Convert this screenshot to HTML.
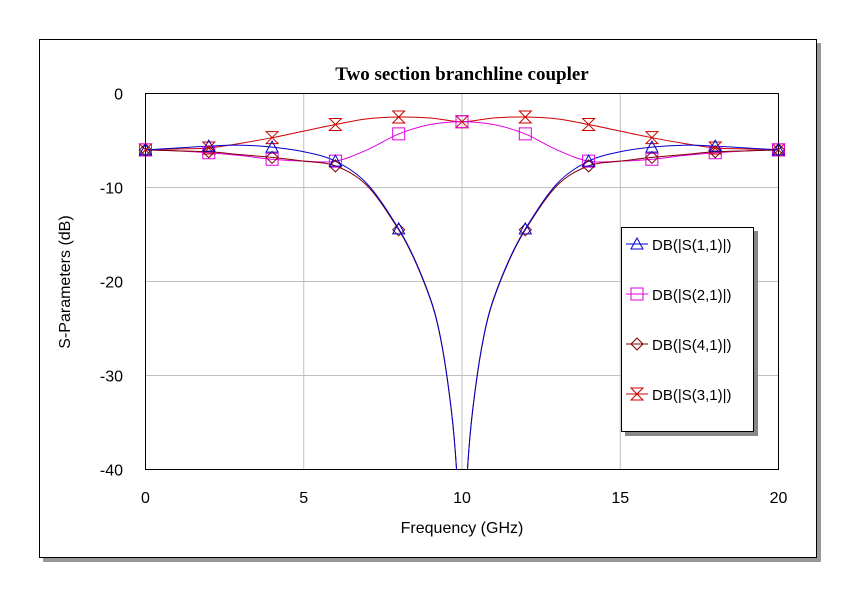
<!DOCTYPE html>
<html><head><meta charset="utf-8"><style>
html,body{margin:0;padding:0;background:#fff;overflow:hidden;width:864px;height:605px;}
svg{display:block;}
svg text{font-family:"Liberation Sans",Arial,sans-serif;}
</style></head><body>
<svg width="864" height="605" viewBox="0 0 864 605" xmlns="http://www.w3.org/2000/svg">
<rect x="43" y="43" width="778" height="519" fill="#999"/>
<rect x="39.5" y="39.5" width="777" height="518" fill="#fff" stroke="#000"/>
<text x="462" y="80" text-anchor="middle" style="font-family:'Liberation Serif',serif" font-weight="bold" font-size="19">Two section branchline coupler</text>
<g id="grid"></g>
<rect x="145.5" y="93.5" width="633" height="376" fill="none" stroke="#000"/>
<g id="ticks"></g>
<text x="462" y="533" text-anchor="middle" font-size="16">Frequency (GHz)</text>
<text transform="translate(70,282) rotate(-90)" text-anchor="middle" font-size="16">S-Parameters (dB)</text>
<defs><clipPath id="clip"><rect x="145" y="93" width="634" height="377"/></clipPath></defs>
<g id="series" clip-path="url(#clip)"></g>
<g id="markers"></g>
<rect x="625" y="231" width="133" height="205" fill="#888"/>
<rect x="621.5" y="227.5" width="132" height="204" fill="#fff" stroke="#000"/>
<g id="legend"></g>
</svg>
<script>
const xTicks=[0,5,10,15,20];
const yTicks=[0,-10,-20,-30,-40];
const freqS11=[0,1,2,3,4,5,6,7,8,8.5,9,9.25,9.5,9.75,9.9,10,10.1,10.25,10.5,10.75,11,11.5,12,13,14,15,16,17,18,19,20];
const valS11=[-6,-5.8,-5.6,-5.5,-5.7,-6.2,-7.2,-9.6,-14.4,-17.6,-21.8,-24.8,-29.5,-36.5,-45,-60,-45,-36.5,-29.5,-24.8,-21.8,-17.6,-14.4,-9.6,-7.2,-6.2,-5.7,-5.5,-5.6,-5.8,-6];
const valS41=[-6,-6.1,-6.2,-6.5,-6.8,-7.2,-7.7,-9.8,-14.5,-17.7,-21.9,-24.9,-29.6,-36.6,-45,-60,-45,-36.6,-29.6,-24.9,-21.9,-17.7,-14.5,-9.8,-7.7,-7.2,-6.8,-6.5,-6.2,-6.1,-6];
const freq=[0,1,2,3,4,5,6,7,8,9,10,11,12,13,14,15,16,17,18,19,20];
const valS21=[-6,-6.1,-6.3,-6.6,-7,-7.2,-7.2,-6,-4.3,-3.3,-3,-3.3,-4.3,-6,-7.2,-7.2,-7,-6.6,-6.3,-6.1,-6];
const valS31=[-6,-5.9,-5.8,-5.3,-4.7,-4,-3.3,-2.7,-2.5,-2.6,-3,-2.6,-2.5,-2.7,-3.3,-4,-4.7,-5.3,-5.8,-5.9,-6];
const markerFreqs=[0,2,4,6,8,10,12,14,16,18,20];
const NS='http://www.w3.org/2000/svg';
const X=f=>145.5+f*633/20, Y=d=>93.5-d*376/40;
function mk(t,a,p){const e=document.createElementNS(NS,t);for(const k in a)e.setAttribute(k,a[k]);p.appendChild(e);return e;}
const grid=document.getElementById('grid'),ticks=document.getElementById('ticks');
xTicks.forEach(t=>{const l=mk('line',{x1:X(t),x2:X(t),y1:93,y2:470,stroke:'#c0c0c0'},grid);


const tx=mk('text',{x:X(t),y:503,'text-anchor':'middle','font-size':16},ticks);tx.textContent=t;

});
yTicks.forEach(t=>{const l=mk('line',{x1:145,x2:779,y1:Y(t),y2:Y(t),stroke:'#c0c0c0'},grid);


const tx=mk('text',{x:123,y:Y(t)+6,'text-anchor':'end','font-size':16},ticks);tx.textContent=t;

});
function pathFor(fs,vs){const n=fs.length;const m=[];
for(let i=0;i<n;i++){const a=Math.max(0,i-1),b=Math.min(n-1,i+1);m.push((vs[b]-vs[a])/(fs[b]-fs[a]));}
let d='M'+X(fs[0])+','+Y(vs[0]);
for(let i=0;i<n-1;i++){const h=fs[i+1]-fs[i];
d+=' C'+X(fs[i]+h/3)+','+Y(vs[i]+m[i]*h/3)+' '+X(fs[i+1]-h/3)+','+Y(vs[i+1]-m[i+1]*h/3)+' '+X(fs[i+1])+','+Y(vs[i+1]);}
return d;}
function interp(fs,vs,f){for(let i=0;i<fs.length;i++)if(Math.abs(fs[i]-f)<1e-9)return vs[i];return null;}
function marker(type,x,y,c,p){let d;
if(type==='tri')d=`M${x-6},${y+5}L${x},${y-6}L${x+6},${y+5}Z`;
else if(type==='sq')d=`M${x-6},${y-6}h12v12h-12Z`;
else if(type==='dia')d=`M${x},${y-6}L${x+6},${y}L${x},${y+6}L${x-6},${y}Z`;
else d=`M${x-6},${y-6}h12L${x-6},${y+6}h12Z`;
return mk('path',{d:d,fill:'none',stroke:c,'stroke-width':1},p);}
const series=[
 {name:'s31',f:freq,v:valS31,c:'#cc0000',m:'hg',label:'DB(|S(3,1)|)'},
 {name:'s21',f:freq,v:valS21,c:'#e000e0',m:'sq',label:'DB(|S(2,1)|)'},
 {name:'s41',f:freqS11,v:valS41,c:'#800000',m:'dia',label:'DB(|S(4,1)|)'},
 {name:'s11',f:freqS11,v:valS11,c:'#0000cc',m:'tri',label:'DB(|S(1,1)|)'}];
const sg=document.getElementById('series'),mg=document.getElementById('markers');
series.forEach(s=>{const p=mk('path',{d:pathFor(s.f,s.v),fill:'none',stroke:s.c,'stroke-width':1},sg);


markerFreqs.forEach(f=>{const v=interp(s.f,s.v,f);if(v===null||v<-40)return;
const mm=marker(s.m,X(f),Y(v),s.c,mg);

});});
const lg=document.getElementById('legend');
const order=[3,1,2,0];
order.forEach((si,i)=>{const s=series[si];const y=244+i*50;
const l=mk('line',{x1:626,x2:648,y1:y,y2:y,stroke:s.c},lg);


marker(s.m,637,y,s.c,lg);
const t=mk('text',{x:652,y:y+6,'font-size':15,fill:'#000'},lg);t.textContent=s.label;

});
</script>
</body></html>
